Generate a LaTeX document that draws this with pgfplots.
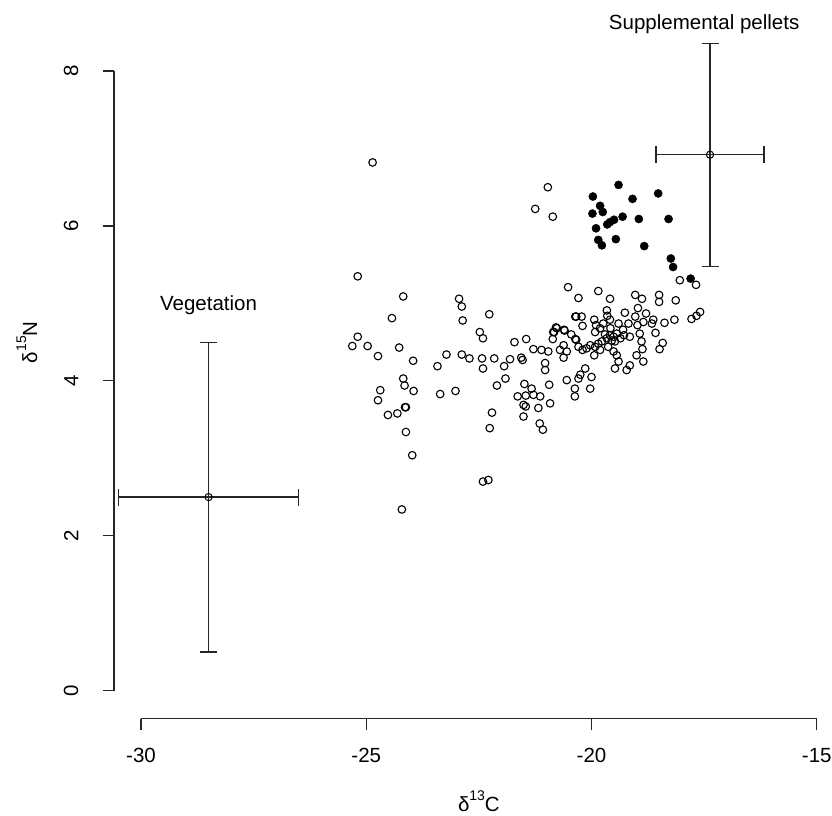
\documentclass[border=0pt]{standalone}
\usepackage{fontspec}
\setmainfont{Liberation Sans}
\usepackage{pgfplots}
\usepackage{pgfplotstable}
\pgfplotsset{compat=1.18}

% open circles: all samples
\pgfplotstableread{
x y
-24.86 6.82
-20.97 6.50
-21.25 6.22
-20.86 6.12
-25.19 5.35
-24.18 5.09
-20.52 5.21
-20.29 5.07
-22.94 5.06
-22.88 4.96
-24.43 4.81
-22.86 4.78
-22.27 4.86
-20.36 4.83
-25.19 4.57
-25.31 4.45
-24.97 4.45
-24.27 4.43
-22.48 4.63
-22.41 4.55
-21.71 4.50
-21.45 4.54
-20.77 4.68
-20.83 4.63
-20.60 4.65
-20.86 4.54
-20.36 4.54
-24.74 4.32
-23.96 4.26
-23.42 4.19
-23.22 4.34
-22.88 4.34
-22.71 4.29
-22.43 4.29
-22.41 4.16
-22.16 4.29
-21.94 4.19
-21.81 4.28
-21.56 4.30
-21.53 4.27
-21.91 4.03
-22.10 3.94
-24.18 4.03
-24.15 3.94
-23.95 3.87
-24.69 3.88
-24.74 3.75
-23.36 3.83
-23.02 3.87
-24.14 3.66
-24.12 3.66
-24.52 3.56
-24.31 3.58
-22.21 3.59
-21.49 3.96
-21.64 3.80
-24.12 3.34
-23.98 3.04
-22.26 3.39
-22.41 2.70
-22.29 2.72
-24.21 2.34
-21.46 3.81
-21.51 3.69
-21.46 3.67
-21.51 3.54
-21.15 3.45
-21.08 3.37
-19.85 5.16
-19.59 5.06
-19.03 5.11
-18.88 5.06
-18.50 5.11
-18.50 5.02
-18.13 5.04
-18.04 5.30
-17.68 5.24
-17.78 4.80
-17.67 4.84
-17.59 4.89
-18.16 4.79
-18.38 4.75
-18.58 4.62
-18.42 4.49
-18.49 4.41
-18.87 4.41
-18.89 4.51
-18.93 4.61
-18.63 4.79
-18.66 4.74
-18.79 4.87
-18.85 4.76
-18.98 4.72
-19.03 4.83
-18.97 4.94
-19.26 4.88
-19.40 4.74
-19.18 4.74
-19.28 4.59
-19.15 4.57
-19.66 4.91
-19.65 4.84
-19.59 4.79
-19.74 4.74
-19.94 4.79
-19.90 4.72
-19.81 4.68
-19.92 4.63
-20.22 4.83
-20.34 4.83
-20.20 4.71
-20.61 4.66
-20.79 4.69
-20.85 4.63
-20.62 4.46
-20.55 4.38
-20.62 4.30
-20.34 4.53
-20.29 4.44
-20.20 4.40
-20.11 4.42
-20.03 4.46
-19.92 4.44
-19.85 4.48
-19.77 4.51
-19.66 4.55
-19.59 4.59
-19.51 4.57
-19.44 4.61
-19.36 4.55
-19.48 4.51
-19.63 4.44
-19.81 4.40
-19.94 4.33
-19.51 4.38
-19.44 4.33
-19.40 4.25
-19.48 4.16
-19.15 4.20
-19.22 4.14
-20.00 4.05
-20.14 4.16
-20.25 4.08
-20.29 4.03
-20.37 3.90
-20.37 3.80
-20.55 4.01
-20.03 3.90
-20.94 3.95
-21.29 4.41
-21.11 4.40
-20.96 4.38
-21.03 4.23
-21.03 4.14
-21.33 3.90
-21.29 3.82
-21.14 3.80
-21.18 3.65
-20.92 3.71
-19.00 4.33
-18.85 4.25
-19.55 4.52
-19.70 4.60
-19.30 4.66
-19.58 4.68
-20.45 4.60
-20.70 4.40
}\opendata

% filled circles
\pgfplotstableread{
x y
-19.40 6.53
-19.97 6.38
-19.09 6.35
-18.52 6.42
-19.81 6.26
-19.75 6.18
-19.98 6.16
-19.31 6.12
-19.50 6.08
-19.59 6.05
-19.65 6.02
-18.95 6.09
-18.29 6.09
-19.90 5.97
-19.85 5.82
-19.77 5.75
-19.46 5.83
-18.83 5.74
-18.24 5.58
-18.19 5.47
-17.80 5.32
}\filleddata

% source means with error bars
\pgfplotstableread{
x y ex ey
-28.50 2.50 2.00 2.00
-17.37 6.92 1.20 1.44
}\sources

\begin{document}
\begin{tikzpicture}[font=\fontsize{20.5}{24}\selectfont]
\useasboundingbox (0,0) rectangle (832pt,815pt);
\begin{axis}[
    at={(114pt,96.4pt)}, anchor=south west,
    scale only axis, width=729.8pt, height=752.9pt,
    xmin=-30.6, xmax=-14.4, ymin=-0.36, ymax=9.36,
    axis x line*=bottom, axis y line*=left,
    axis line style={draw=none,-},
    clip=false,
    xtick={-30,-25,-20,-15}, ytick={0,2,4,6,8},
    tick align=outside, major tick length=11.5pt,
    tick style={line width=1.2pt, black!85},
    /pgf/number format/assume math mode=true,
    xticklabel style={anchor=north, inner sep=0pt, yshift=-18pt},
    yticklabel style={rotate=90, anchor=south, inner sep=0pt, yshift=24pt},
    every axis x label/.style={at={(axis description cs:0.5,-0.1237)}, anchor=base},
    every axis y label/.style={at={(axis description cs:-0.1055,0.5)}, rotate=90, anchor=base},
    xlabel={δ\raisebox{11pt}{\fontsize{14}{14}\selectfont 13}C},
    ylabel={δ\raisebox{11pt}{\fontsize{14}{14}\selectfont 15}N},
]
\draw[line width=1.2pt, black!85] (axis cs:-30,-0.36) -- (axis cs:-15,-0.36);
\draw[line width=1.2pt, black!85] (axis cs:-30.6,0) -- (axis cs:-30.6,8);

\addplot[only marks, mark=o, mark size=3.8pt, mark options={line width=1.1pt, black}]
    table {\opendata};
\addplot[only marks, mark=*, mark size=4.1pt, mark options={black, fill=black}]
    table {\filleddata};
\addplot[only marks, black!85, line width=1.3pt,
    mark=o, mark size=3.6pt, mark options={line width=1pt, black},
    error bars/.cd, x dir=both, y dir=both, x explicit, y explicit,
    error mark=|, error mark options={mark size=8.5pt, line width=1.2pt, black!85},
    error bar style={line width=1.3pt, black!85}]
    table[x=x, y=y, x error=ex, y error=ey] {\sources};

\node[anchor=base] at (axis cs:-28.5,4.915) {Vegetation};
\node[anchor=base] at (axis cs:-17.5,8.536) {Supplemental pellets};
\end{axis}
\end{tikzpicture}
\end{document}
